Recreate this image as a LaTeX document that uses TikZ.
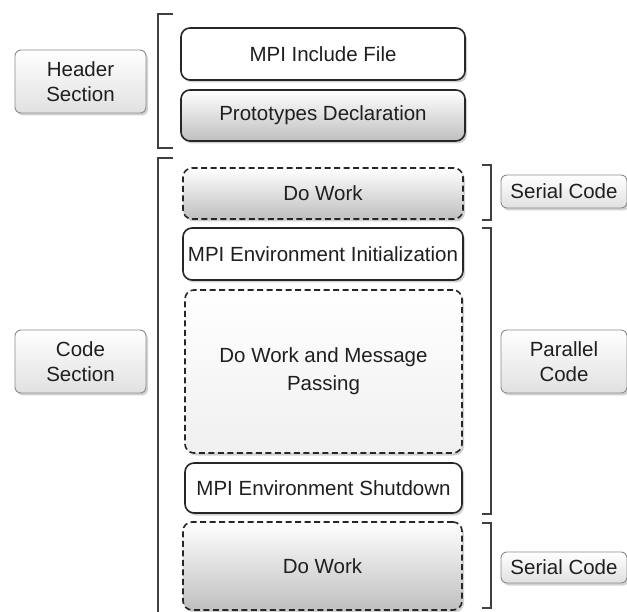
\documentclass[tikz,border=0pt]{standalone}
\usepackage{fontspec}
\setmainfont{Liberation Sans}
\usetikzlibrary{shadows}
\begin{document}
\begin{tikzpicture}[x=1pt,y=-1pt,
  base/.style={inner sep=0pt, outer sep=0pt, align=center, text=black!88,
    font=\fontsize{20.5}{25}\selectfont, rounded corners=9pt,
    drop shadow={shadow xshift=2pt, shadow yshift=-2.5pt, opacity=0.35}},
  solidbox/.style={base, draw=black!85, line width=1.6pt, fill=white},
  solidgrad/.style={base, draw=black!85, line width=1.6pt, top color=white, bottom color=black!25},
  dashbox/.style={base, draw=black!85, line width=1.6pt, dash pattern=on 6pt off 3.5pt, top color=white, bottom color=black!25},
  dashwhite/.style={base, draw=black!85, line width=1.6pt, dash pattern=on 6pt off 3.5pt, top color=white, bottom color=black!6},
  labelbox/.style={base, draw=black!45, line width=0.9pt, rounded corners=6pt, top color=white, bottom color=black!12},
  brace/.style={draw=black!75, line width=1.5pt}
]
\useasboundingbox (0,0) rectangle (627,612);
\fill[white] (0,0) rectangle (627,612);

% left labels
\node[labelbox, minimum width=131pt, minimum height=63pt] (header) at (80.5,81.5) {Header\\Section};
\node[labelbox, minimum width=131pt, minimum height=63pt] (code) at (80.5,361.5) {Code\\Section};

% centre boxes
\node[solidbox, minimum width=284pt, minimum height=52pt] (inc) at (323,54) {MPI Include File};
\node[solidgrad, minimum width=284pt, minimum height=51pt] (proto) at (323,115.5) {Prototypes Declaration};
\node[dashbox, minimum width=280pt, minimum height=51pt] (work1) at (323,193.5) {Do Work};
\node[solidbox, minimum width=280pt, minimum height=52pt] (init) at (323,254) {MPI Environment Initialization};
\node[dashwhite, minimum width=277pt, minimum height=163pt, font=\fontsize{20.5}{28}\selectfont] (mp) at (323.5,371.5) {Do Work and Message\\Passing};
\node[solidbox, minimum width=277pt, minimum height=50pt] (shut) at (323.5,488) {MPI Environment Shutdown};
\node[dashbox, minimum width=279pt, minimum height=88pt] (work2) at (322.5,566) {Do Work};

% right labels
\node[labelbox, minimum width=126pt, minimum height=33pt] (ser1) at (564,191.5) {Serial Code};
\node[labelbox, minimum width=126pt, minimum height=63pt] (par) at (564,361.5) {Parallel\\Code};
\node[labelbox, minimum width=126pt, minimum height=31pt] (ser2) at (564,567.5) {Serial Code};

% left brackets
\draw[brace] (173,14) -- (158,14) -- (158,148) -- (173,148);
\draw[brace] (173,158) -- (158,158) -- (158,620);

% right brackets
\draw[brace] (482,165) -- (491,165) -- (491,220) -- (482,220);
\draw[brace] (482,228) -- (491,228) -- (491,514) -- (482,514);
\draw[brace] (482,523) -- (491,523) -- (491,608) -- (482,608);
\end{tikzpicture}
\end{document}
